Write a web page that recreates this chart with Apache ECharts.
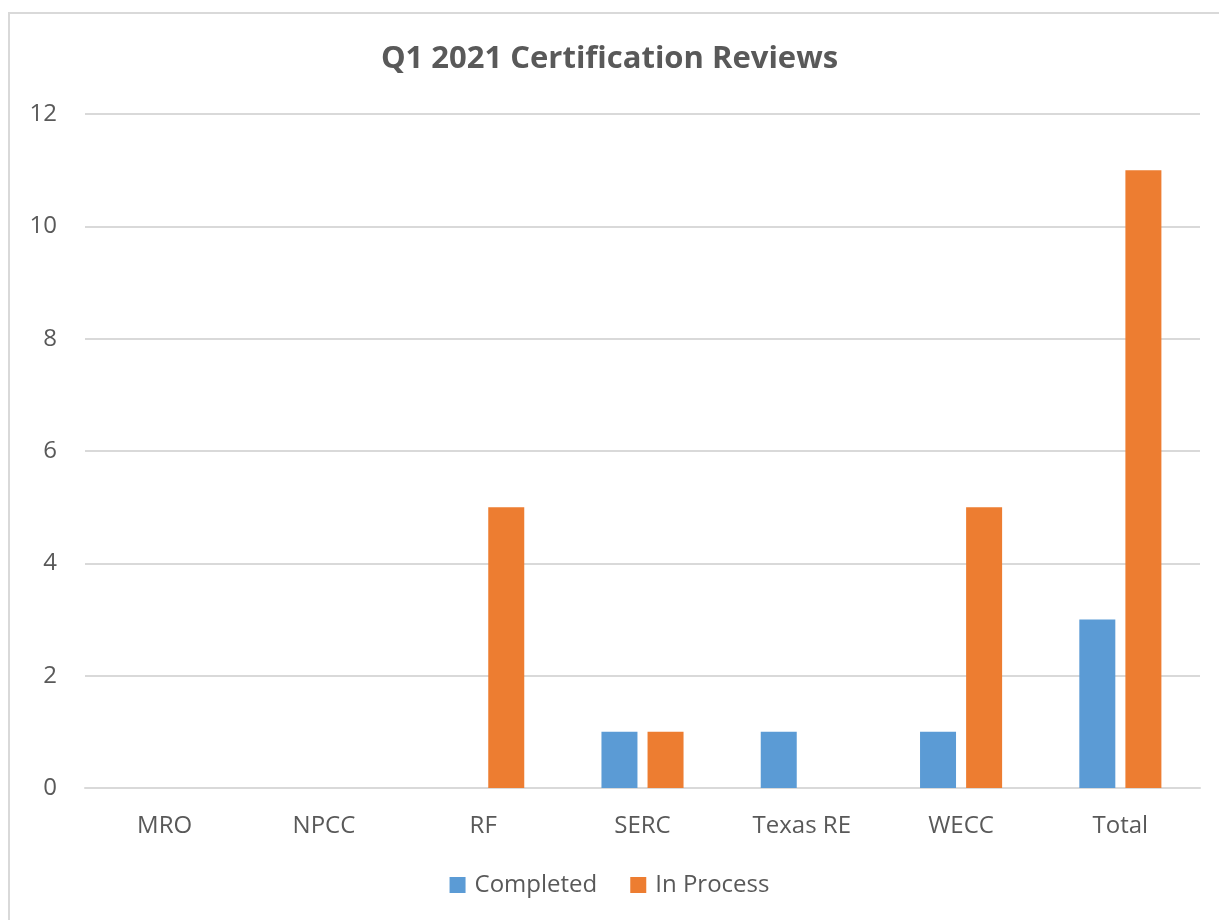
<!DOCTYPE html>
<html>
<head>
<meta charset="utf-8">
<script src="https://cdn.jsdelivr.net/npm/echarts@6/dist/echarts.min.js"></script>
<style>
  html, body { margin: 0; padding: 0; background: #fff; }
  #chart { width: 1219px; height: 920px; }
</style>
</head>
<body>
<div id="chart"></div>
<script>
const categories = ['MRO', 'NPCC', 'RF', 'SERC', 'Texas RE', 'WECC', 'Total']
const completed = [0, 0, 0, 1, 1, 1, 3]
const inProcess = [0, 0, 5, 1, 0, 5, 11]

const FONT = '"Open Sans", Lato, sans-serif'
const TEXT = '#595959'

let chart = echarts.init(document.getElementById('chart'))

chart.setOption({
  animation: false,
  textStyle: { fontFamily: FONT },
  // chart frame
  graphic: [{
    type: 'rect',
    shape: { x: 9, y: 13, width: 1230, height: 930 },
    style: { fill: 'none', stroke: '#d9d9d9', lineWidth: 2 },
    silent: true
  }],
  title: {
    text: 'Q1 2021 Certification Reviews',
    left: 'center',
    top: 39,
    textStyle: { fontFamily: FONT, fontSize: 31, fontWeight: 'bold', color: TEXT }
  },
  legend: {
    bottom: 18,
    left: 'center',
    itemWidth: 16,
    itemHeight: 16,
    itemGap: 33,
    icon: 'rect',
    textStyle: { fontFamily: FONT, fontSize: 24, color: TEXT, padding: [0, 0, 0, 4] },
    data: ['Completed', 'In Process']
  },
  grid: { left: 85, right: 19, top: 114, bottom: 132, containLabel: false },
  xAxis: {
    type: 'category',
    data: categories,
    axisLine: { lineStyle: { color: '#d9d9d9', width: 2 } },
    axisTick: { show: false },
    axisLabel: { color: TEXT, fontSize: 24, margin: 26, fontFamily: FONT }
  },
  yAxis: {
    type: 'value',
    min: 0,
    max: 12,
    interval: 2,
    axisLine: { show: false },
    axisTick: { show: false },
    axisLabel: { color: TEXT, fontSize: 24, margin: 28, fontFamily: FONT },
    splitLine: { lineStyle: { color: '#d9d9d9', width: 2 } }
  },
  series: [
    {
      name: 'Completed',
      type: 'bar',
      data: completed,
      barWidth: 36,
      barGap: '28%',
      itemStyle: { color: '#5B9BD5' }
    },
    {
      name: 'In Process',
      type: 'bar',
      data: inProcess,
      barWidth: 36,
      barGap: '28%',
      itemStyle: { color: '#ED7D31' }
    }
  ]
})
</script>
</body>
</html>
